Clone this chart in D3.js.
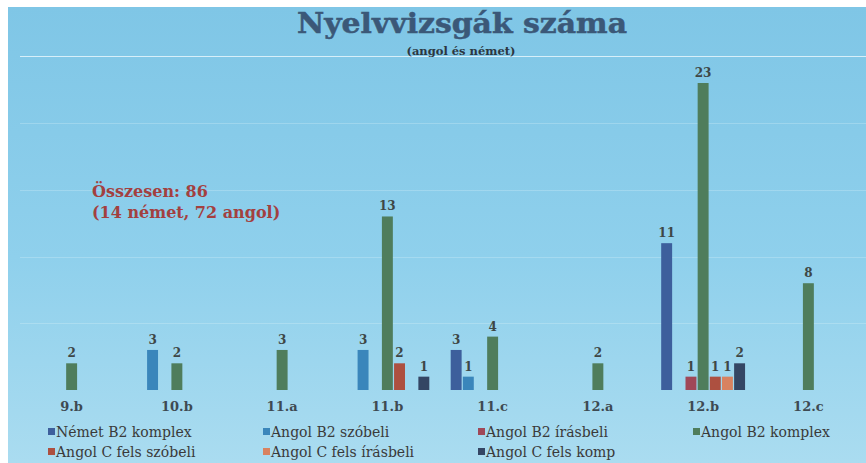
<!DOCTYPE html>
<html>
<head>
<meta charset="utf-8">
<script src="https://cdn.jsdelivr.net/npm/d3@7"></script>
<style>
  html, body { margin: 0; padding: 0; background: #ffffff; }
  svg { display: block; }
</style>
</head>
<body>
<svg id="chart"></svg>
<script>
const width = 866;
const height = 463;

// data
const categories = ["9.b", "10.b", "11.a", "11.b", "11.c", "12.a", "12.b", "12.c"];
const seriesNames = [
    "Német B2 komplex", "Angol B2 szóbeli", "Angol B2 írásbeli", "Angol B2 komplex",
    "Angol C fels szóbeli", "Angol C fels írásbeli", "Angol C fels komp"
];
const nemetB2Komplex   = [0, 0, 0, 0, 3, 0, 11, 0];
const angolB2Szobeli   = [0, 3, 0, 3, 1, 0, 0, 0];
const angolB2Irasbeli  = [0, 0, 0, 0, 0, 0, 1, 0];
const angolB2Komplex   = [2, 2, 3, 13, 4, 2, 23, 8];
const angolCSzobeli    = [0, 0, 0, 2, 0, 0, 1, 0];
const angolCIrasbeli   = [0, 0, 0, 0, 0, 0, 1, 0];
const angolCKomp       = [0, 0, 0, 1, 0, 0, 2, 0];
const gridTicks = [5, 10, 15, 20, 25];
const titleText = "Nyelvvizsgák száma";
const subtitleText = "(angol és német)";
const noteLines = ["Összesen: 86", "(14 német, 72 angol)"];

const seriesValues = [nemetB2Komplex, angolB2Szobeli, angolB2Irasbeli, angolB2Komplex,
    angolCSzobeli, angolCIrasbeli, angolCKomp];
const colors = ["#3d5f9c", "#3a86bb", "#a04858", "#4f7d5c", "#ad5040", "#d88260", "#344664"];

const serif = "'DejaVu Serif', 'Liberation Serif', serif";

const svg = d3.select("#chart").attr("width", width).attr("height", height);

// background panel (white strip on the top and left edge like the scan)
const defs = svg.append("defs");
const grad = defs.append("linearGradient").attr("id", "bg").attr("x1", 0).attr("y1", 0).attr("x2", 0).attr("y2", 1);
grad.append("stop").attr("offset", "0%").attr("stop-color", "#7fc6e6");
grad.append("stop").attr("offset", "55%").attr("stop-color", "#8fd0ec");
grad.append("stop").attr("offset", "100%").attr("stop-color", "#aadcf0");
svg.append("rect").attr("x", 8).attr("y", 7).attr("width", width - 8).attr("height", height - 7)
    .attr("fill", "url(#bg)");

const x0 = d3.scaleBand().domain(categories).range([19, 861]).paddingInner(0.18).paddingOuter(0.09);
const x1 = d3.scaleBand().domain(seriesNames).range([0, x0.bandwidth()]).padding(0.1);
const y = d3.scaleLinear().domain([0, 23]).range([390, 83]);

// faint gridlines
svg.append("g").selectAll("line").data(gridTicks).join("line")
    .attr("x1", 20).attr("x2", width)
    .attr("y1", d => Math.round(y(d)) + 0.5).attr("y2", d => Math.round(y(d)) + 0.5)
    .attr("stroke", "#e6f6fc").attr("stroke-opacity", d => d === 25 ? 0.85 : 0.25)
    .attr("stroke-width", 1.2);

// title
svg.append("text").attr("x", 462).attr("y", 33).attr("text-anchor", "middle")
    .attr("font-family", serif).attr("font-weight", "bold").attr("font-size", 27)
    .attr("textLength", 330).attr("lengthAdjust", "spacingAndGlyphs")
    .attr("fill", "#3b5878").attr("stroke", "#3b5878").attr("stroke-width", 0.5).text(titleText);
svg.append("text").attr("x", 461).attr("y", 55).attr("text-anchor", "middle")
    .attr("font-family", serif).attr("font-weight", "bold").attr("font-size", 11.5)
    .attr("fill", "#2c3640").text(subtitleText);

// bars
const groups = svg.append("g").selectAll("g").data(categories).join("g")
    .attr("transform", d => `translate(${x0(d)},0)`);

const cells = groups.selectAll("g").data((c, ci) => seriesNames.map((s, si) => ({
    series: s, color: colors[si], value: seriesValues[si][ci]
})).filter(d => d.value > 0)).join("g");

cells.append("rect")
    .attr("x", d => x1(d.series)).attr("width", x1.bandwidth())
    .attr("y", d => y(d.value)).attr("height", d => y(0) - y(d.value))
    .attr("fill", d => d.color);

cells.append("text")
    .attr("x", d => x1(d.series) + x1.bandwidth() / 2).attr("y", d => y(d.value) - 6)
    .attr("text-anchor", "middle").attr("font-family", serif).attr("font-weight", "bold")
    .attr("font-size", 12).attr("fill", "#3e4746").text(d => d.value);

// category labels
svg.append("g").selectAll("text").data(categories).join("text")
    .attr("x", d => x0(d) + x0.bandwidth() / 2).attr("y", 411)
    .attr("text-anchor", "middle").attr("font-family", serif).attr("font-weight", "bold")
    .attr("font-size", 13).attr("fill", "#3e4a52").text(d => d);

// note
svg.append("g").selectAll("text").data(noteLines).join("text")
    .attr("x", 92).attr("y", (d, i) => 197 + i * 21)
    .attr("font-family", serif).attr("font-weight", "bold").attr("font-size", 16)
    .attr("fill", "#a3403f").text(d => d);

// legend
const legend = svg.append("g").selectAll("g").data(seriesNames).join("g")
    .attr("transform", (d, i) => `translate(${48 + (i % 4) * 215},${437 + Math.floor(i / 4) * 20})`);
legend.append("rect").attr("x", 0).attr("y", -9).attr("width", 7).attr("height", 7)
    .attr("fill", (d, i) => colors[i]);
legend.append("text").attr("x", 8).attr("y", 0)
    .attr("font-family", serif).attr("font-size", 14).attr("fill", "#3a3a3a").text(d => d);
</script>
</body>
</html>
